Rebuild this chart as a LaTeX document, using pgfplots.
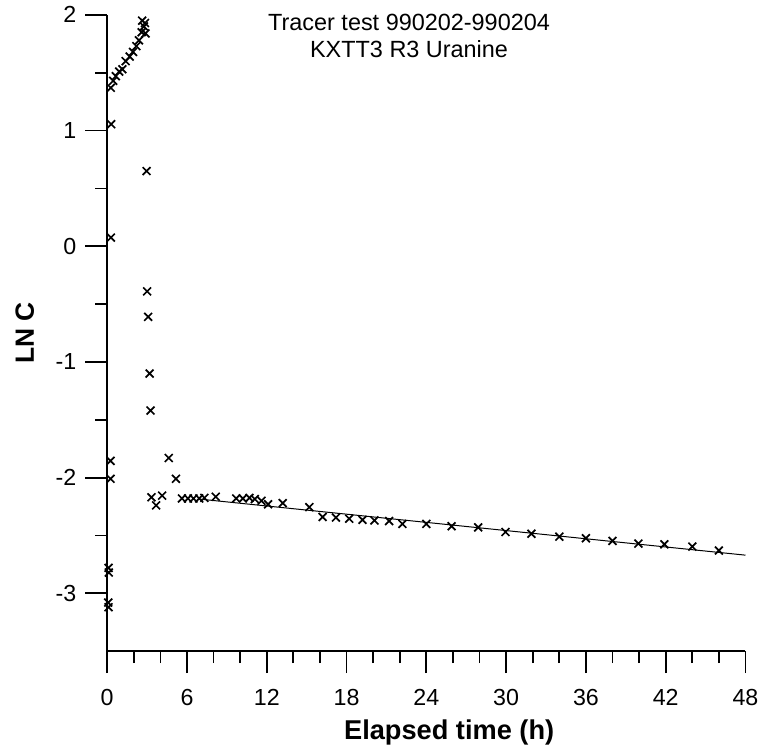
\documentclass[border=0pt]{standalone}
\usepackage{pgfplots}
\pgfplotsset{compat=1.18}
\usepackage{fontspec}
\setmainfont{Liberation Sans}
\begin{document}
\begin{tikzpicture}
\begin{axis}[
  scale only axis,
  width=321.5bp, height=320.5bp,
  xmin=0, xmax=48, ymin=-3.5, ymax=2,
  axis lines*=left,
  axis line style={line width=1bp},
  xtick={0,6,...,48},
  minor xtick={2,4,8,10,14,16,20,22,26,28,32,34,38,40,44,46},
  ytick={-3,-2,-1,0,1,2},
  minor ytick={-2.5,-1.5,-0.5,0.5,1.5},
  tick align=outside,
  major tick length=11bp,
  minor tick length=6bp,
  every tick/.style={black, line width=0.9bp},
  /pgf/number format/assume math mode=true,
  tick label style={font=\fontsize{11.7bp}{13bp}\selectfont},
  xticklabel style={yshift=-4.5bp},
  yticklabel style={xshift=-1bp},
  xlabel={Elapsed time (h)},
  ylabel={LN C},
  xlabel style={font=\fontsize{13.7bp}{15bp}\selectfont\bfseries, xshift=11.5bp, yshift=-0.5bp},
  ylabel style={font=\fontsize{13.3bp}{15bp}\selectfont\bfseries, yshift=4bp},
  clip=false,
]
\addplot[only marks, mark=x, mark size=2.8bp, mark options={line width=0.85bp}] coordinates {
(0.10,-3.12)(0.08,-3.08)(0.12,-2.82)(0.10,-2.78)(0.25,-2.01)(0.25,-1.855)(0.28,0.075)(0.30,1.055)
(0.27,1.37)(0.45,1.43)(0.65,1.47)(0.9,1.51)(1.14,1.53)(1.39,1.60)(1.69,1.64)(1.94,1.68)(2.19,1.73)(2.39,1.78)(2.59,1.85)(2.76,1.90)(2.84,1.93)(2.63,1.95)(2.88,1.84)
(2.96,0.65)(3.0,-0.39)(3.08,-0.61)(3.19,-1.10)(3.26,-1.42)
(3.33,-2.17)(3.68,-2.24)(4.13,-2.155)(4.63,-1.83)(5.17,-2.01)
(5.62,-2.18)(6.07,-2.18)(6.49,-2.18)(6.92,-2.18)(7.31,-2.175)(8.16,-2.165)(9.7,-2.18)(10.2,-2.18)(10.7,-2.175)(11.1,-2.185)(11.6,-2.2)(12.1,-2.23)(13.2,-2.22)(15.2,-2.255)(16.2,-2.34)(17.2,-2.345)(18.2,-2.355)(19.2,-2.365)(20.1,-2.37)(21.2,-2.375)(22.2,-2.40)(24,-2.40)(25.9,-2.42)(27.9,-2.43)(29.95,-2.47)(31.9,-2.485)(34,-2.51)(36,-2.524)(38,-2.547)(39.95,-2.57)(41.9,-2.576)(44,-2.596)(46,-2.63)
};
\addplot[black, line width=0.5bp, no marks] coordinates {(7,-2.186)(48,-2.67)};
\node[anchor=north, align=center, font=\fontsize{11.8bp}{13.5bp}\selectfont, yshift=4bp] at (axis cs:22.7,2) {Tracer test 990202-990204\\KXTT3 R3 Uranine};
\coordinate (sw) at (rel axis cs:0,0);
\coordinate (ne) at (rel axis cs:1,1);
\end{axis}
\path ([xshift=-54bp,yshift=-47.5bp]sw) rectangle ([xshift=7bp,yshift=7.5bp]ne);
\end{tikzpicture}
\end{document}
